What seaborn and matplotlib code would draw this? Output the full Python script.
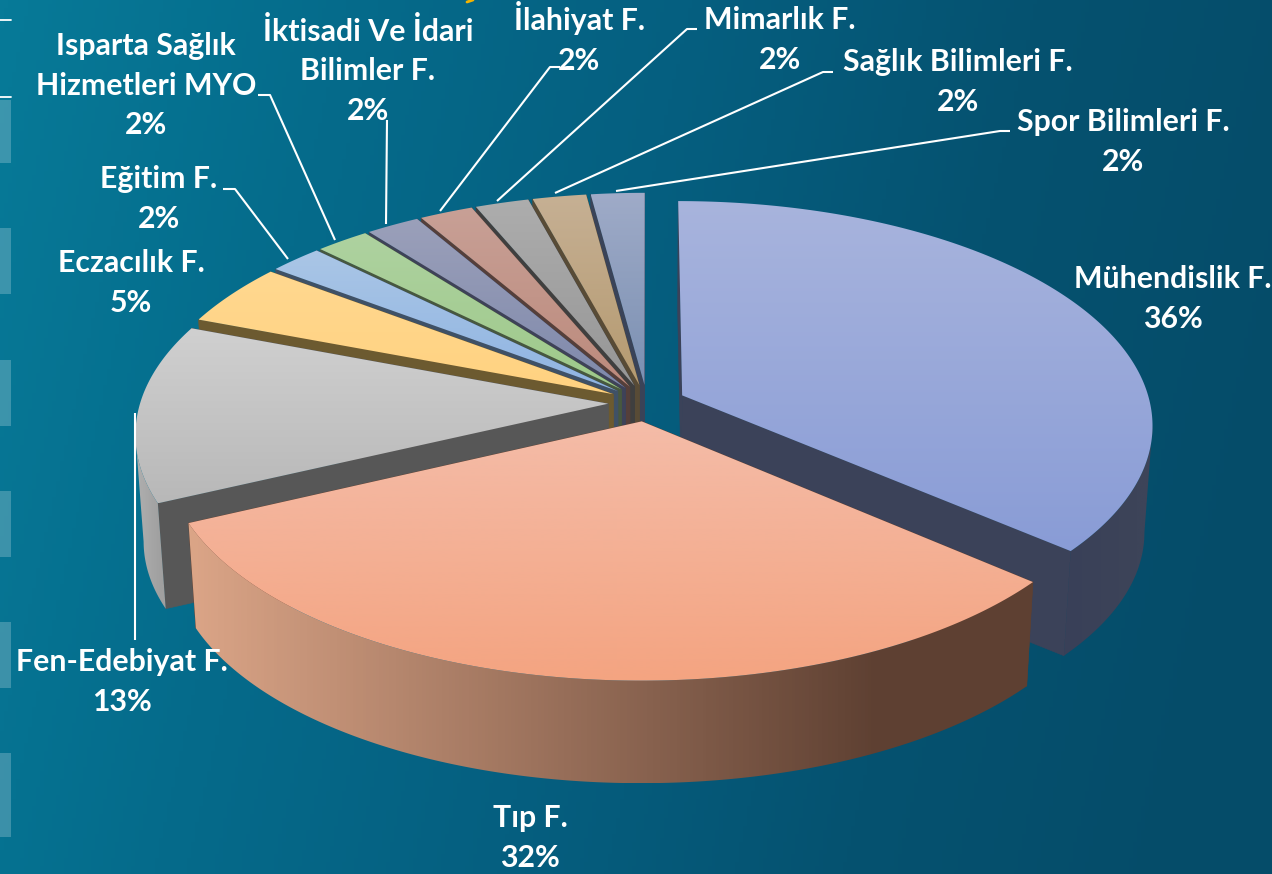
import numpy as np
import matplotlib
matplotlib.use("Agg")
import matplotlib.pyplot as plt
from matplotlib.patches import Polygon, Rectangle
import seaborn as sns

# -----------------------------
# Data
# -----------------------------
labels = ["Mühendislik F.", "Tıp F.", "Fen-Edebiyat F.", "Eczacılık F.", "Eğitim F.",
          "Isparta Sağlık\nHizmetleri MYO", "İktisadi Ve İdari\nBilimler F.", "İlahiyat F.",
          "Mimarlık F.", "Sağlık Bilimleri F.", "Spor Bilimleri F."]
percent_text = ["36%", "32%", "13%", "5%", "2%", "2%", "2%", "2%", "2%", "2%", "2%"]
# shares, the printed labels are rounded
values = [36.3, 31.7, 12.8, 4.5, 2.1, 2.1, 2.1, 2.1, 2.1, 2.1, 2.1]

# -----------------------------
# Styles
# -----------------------------
top_light = ["#a8b4dd", "#f4bca8", "#d0d0d0", "#ffd890", "#aac6e6", "#aed2a0",
             "#9ba0ba", "#c8a096", "#adadad", "#c6b094", "#9fabc8"]
top_dark = ["#899cd6", "#f4a481", "#b8b8b8", "#ffd280", "#8fb4e2", "#9ec98a",
            "#7f89ab", "#bc8a7c", "#969696", "#b59a70", "#7b90b2"]
wall_col = ["#3b4259", "#5e4032", "#575757", "#6c5a30", "#3f5166", "#47583f",
            "#3e4258", "#553f3a", "#3f3f3f", "#584b36", "#3a4358"]
rim_left = ["#394058", "#dba587", "#b0b0b0", "#6c5a30", "#3f5166", "#47583f",
            "#3e4258", "#553f3a", "#3f3f3f", "#584b36", "#3a4358"]
rim_right = ["#3d4459", "#5e4032", "#a0a0a0", "#6c5a30", "#3f5166", "#47583f",
             "#3e4258", "#553f3a", "#3f3f3f", "#584b36", "#3a4358"]
# label centres in picture pixels
label_pos = [(1173, 299), (530, 838), (122, 682), (131, 283), (159, 199),
             (146, 86), (368, 71), (579, 38), (780, 40), (958, 82), (1123, 142)]
leaders = [
    [(697, 29), (687, 29), (497, 201)],
    [(560, 67), (550, 67), (440, 211)],
    [(387, 120), (386, 224)],
    [(258, 95), (270, 95), (335, 240)],
    [(223, 189), (235, 189), (288, 259)],
    [(833, 72), (823, 72), (555, 193)],
    [(1010, 131), (1000, 131), (616, 191)],
    [(135, 413), (135, 640)],
]
side_bars = [(100, 163), (228, 294), (360, 426), (491, 557), (622, 688), (753, 837)]

W, H = 1272, 874
CX, CY = 647, 403      # pie centre
RX, RY = 468, 221      # plane radii
PERSP = 0.128          # perspective strength
EXPLODE = 0.083
DEPTH = 107
SHRINK = 0.984


def project(u, v):
    w = 1 + PERSP * v
    return np.column_stack([CX + RX * u / w, CY - RY * v / w])


def lower(pts):
    out = pts.copy()
    out[:, 0] = CX + (pts[:, 0] - CX) * SHRINK
    out[:, 1] = CY + (pts[:, 1] - CY) * SHRINK + DEPTH
    return out


def gradient_fill(ax, pts, c0, c1, z, across=False):
    cmap = sns.blend_palette([c0, c1], as_cmap=True)
    poly = Polygon(pts, closed=True, fc="none", ec="none", zorder=z)
    ax.add_patch(poly)
    grad = np.linspace(0, 1, 256)
    if across:
        # side shading reaches its dark end before the right edge
        grad = np.clip(grad / 0.82, 0, 1).reshape(1, -1)
    else:
        grad = grad.reshape(-1, 1)
    im = ax.imshow(grad, cmap=cmap, aspect="auto", zorder=z, vmin=0, vmax=1,
                   extent=(pts[:, 0].min(), pts[:, 0].max(), pts[:, 1].max(), pts[:, 1].min()))
    im.set_clip_path(poly)


def draw_slice(ax, i, start, end, z):
    mid = (start + end) / 2
    off_u, off_v = EXPLODE * np.sin(mid), EXPLODE * np.cos(mid)
    t = np.linspace(start, end, 200)
    arc = project(np.sin(t) + off_u, np.cos(t) + off_v)
    apex = project(np.array([off_u]), np.array([off_v]))
    low_arc, low_apex = lower(arc), lower(apex)

    # the two flat cut walls
    for edge, low_edge in ((arc[0], low_arc[0]), (arc[-1], low_arc[-1])):
        wall = np.array([apex[0], edge, low_edge, low_apex[0]])
        ax.add_patch(Polygon(wall, closed=True, fc=wall_col[i], ec=wall_col[i], lw=0.4, zorder=z))

    # outer rim, only the part of the arc that faces the viewer
    front = np.append(np.diff(arc[:, 0]) <= 0, False)
    front[1:] |= front[:-1]
    if front.sum() > 1:
        ribbon = np.vstack([arc[front], low_arc[front][::-1]])
        gradient_fill(ax, ribbon, rim_left[i], rim_right[i], z + 0.1, across=True)

    # top face
    gradient_fill(ax, np.vstack([apex, arc]), top_light[i], top_dark[i], z + 0.2)


if __name__ == "__main__":
    sns.set_theme(style="white")
    plt.rcParams["font.family"] = ["Lato", "DejaVu Sans"]

    fig = plt.figure(figsize=(W / 100, H / 100), dpi=100)
    ax = fig.add_axes([0, 0, 1, 1])

    # background
    bg_cmap = sns.blend_palette(["#077a98", "#056b8b", "#055f80", "#055270", "#054c69"], as_cmap=True)
    xx, yy = np.meshgrid(np.linspace(0, 1, 320), np.linspace(0, 1, 220))
    ax.imshow(np.clip(xx * 0.92 + yy * 0.14, 0, 1), cmap=bg_cmap,
              aspect="auto", extent=(0, W, H, 0), vmin=0, vmax=1, zorder=0)

    # left edge decoration
    for y0, y1 in side_bars:
        ax.add_patch(Rectangle((0, y0), 11, y1 - y0, fc="#ffffff", alpha=0.22, ec="none", zorder=1))
    ax.plot([0, 11], [20, 20], color="white", lw=1.3, zorder=1)
    ax.plot([0, 11], [97, 97], color="white", lw=1.3, zorder=1)
    ax.plot([467, 473], [2, 0], color="#f5b400", lw=2, zorder=1)

    # slices, back to front
    edges = np.deg2rad(np.cumsum([0] + values) * 3.6)
    order = [0, 10, 9, 8, 7, 6, 5, 4, 3, 2, 1]
    for z, i in enumerate(order):
        draw_slice(ax, i, edges[i], edges[i + 1], 3 + z)

    # leader lines
    for line in leaders:
        xs, ys = zip(*line)
        ax.plot(xs, ys, color="white", lw=1.5, zorder=20, solid_capstyle="butt")

    # labels
    for name, pct, (x, y) in zip(labels, percent_text, label_pos):
        ax.text(x, y, f"{name}\n{pct}", ha="center", va="center", color="white",
                fontsize=21.8, fontweight="bold", linespacing=1.5, zorder=21)

    ax.set_xlim(0, W)
    ax.set_ylim(H, 0)
    ax.axis("off")
    fig.savefig("out.png", dpi=100)
